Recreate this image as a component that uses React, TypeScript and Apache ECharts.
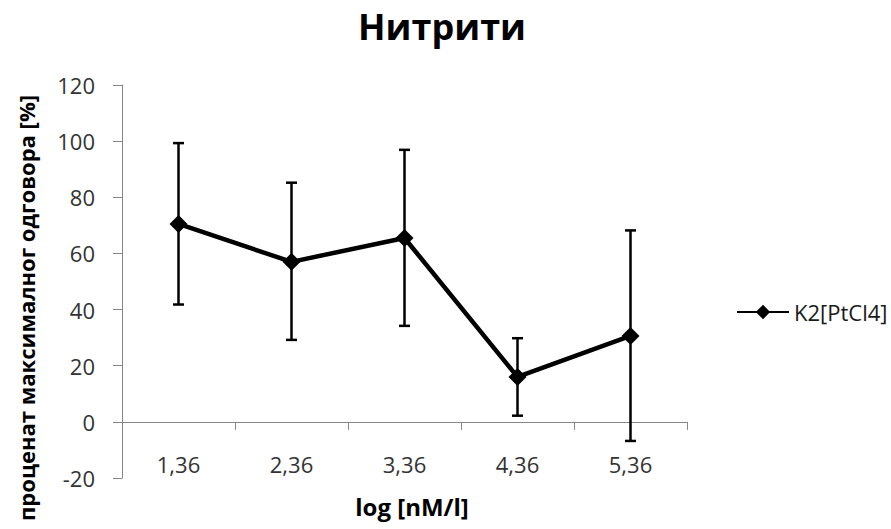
import React, { useEffect, useRef } from "react";
import * as echarts from "echarts";

const categories = ["1,36", "2,36", "3,36", "4,36", "5,36"];
const seriesName = "K2[PtCl4]";
const values = [70.5, 57, 65.5, 16, 30.6];
const errLower = [41.8, 29.2, 34.2, 2.2, -6.8];
const errUpper = [99.3, 85.2, 96.9, 29.8, 68.2];
const yTicks = { min: -20, max: 120, interval: 20 };

const FONT = "'Open Sans', 'Noto Sans', sans-serif";
const AXIS_COLOR = "#868686";

export default function App() {
  const ref = useRef<HTMLDivElement>(null);
  useEffect(() => {
    if (!ref.current) return;
    const chart = echarts.init(ref.current, null, { renderer: "svg" });
    const option: any = {
      animation: false,
      backgroundColor: "#ffffff",
      textStyle: { fontFamily: FONT },
      legend: {
        data: [seriesName],
        left: 731,
        top: 296,
        itemWidth: 52,
        itemHeight: 18,
        itemGap: 4,
        textStyle: { fontFamily: FONT, fontSize: 22, color: "#1a1a1a" },
      },
      grid: { left: 122, right: 204, top: 85, bottom: 51, containLabel: false, outerBoundsMode: "none" },
      xAxis: {
        type: "category",
        data: categories,
        boundaryGap: true,
        axisLine: { onZero: true, lineStyle: { color: AXIS_COLOR, width: 1 } },
        axisTick: { show: true, length: 8, inside: false, lineStyle: { color: AXIS_COLOR } },
        axisLabel: { margin: -25, fontFamily: FONT, fontSize: 22, color: "#333" },
        splitLine: { show: false },
      },
      yAxis: {
        type: "value",
        min: yTicks.min,
        max: yTicks.max,
        interval: yTicks.interval,
        axisLine: { show: true, lineStyle: { color: AXIS_COLOR, width: 1 } },
        axisTick: { show: true, length: 9, lineStyle: { color: AXIS_COLOR } },
        axisLabel: { margin: 27, fontFamily: FONT, fontSize: 22, color: "#333" },
        splitLine: { show: false },
      },
      graphic: [
        {
          type: "text",
          x: 442,
          y: 26,
          style: {
            text: "Нитрити",
            fontFamily: FONT,
            fontSize: 36,
            fontWeight: "bold",
            fill: "#000",
            textAlign: "center",
            textVerticalAlign: "middle",
          },
        },
        {
          type: "text",
          x: 26,
          y: 308,
          rotation: Math.PI / 2,
          style: {
            text: "проценат максималног одговора [%]",
            fontFamily: FONT,
            fontSize: 22,
            fontWeight: "bold",
            fill: "#000",
            textAlign: "center",
            textVerticalAlign: "middle",
          },
        },
        {
          type: "text",
          x: 412,
          y: 506,
          style: {
            text: "log [nM/l]",
            fontFamily: FONT,
            fontSize: 24,
            fontWeight: "bold",
            fill: "#000",
            textAlign: "center",
            textVerticalAlign: "middle",
          },
        },
      ],
      series: [
        {
          type: "custom",
          name: "errors",
          data: categories.map((_, i) => [i, errLower[i], errUpper[i]]),
          encode: { x: 0, y: [1, 2] },
          z: 1,
          renderItem: (params: any, api: any) => {
            const x = api.value(0);
            const lo = api.coord([x, api.value(1)]);
            const hi = api.coord([x, api.value(2)]);
            const hw = 5.5;
            const style = { stroke: "#000", lineWidth: 2.5 };
            return {
              type: "group",
              children: [
                { type: "line", shape: { x1: lo[0], y1: lo[1], x2: hi[0], y2: hi[1] }, style },
                { type: "line", shape: { x1: hi[0] - hw, y1: hi[1], x2: hi[0] + hw, y2: hi[1] }, style },
                { type: "line", shape: { x1: lo[0] - hw, y1: lo[1], x2: lo[0] + hw, y2: lo[1] }, style },
              ],
            };
          },
        },
        {
          type: "line",
          name: seriesName,
          data: values,
          z: 3,
          symbol: "diamond",
          symbolSize: 18,
          itemStyle: { color: "#000" },
          lineStyle: { color: "#000", width: 4.5 },
        },
      ],
    };
    chart.setOption(option);
    return () => chart.dispose();
  }, []);
  return (
    <div
      ref={ref}
      style={{ position: "fixed", left: 0, top: 0, width: 891, height: 529, background: "#fff" }}
    />
  );
}
